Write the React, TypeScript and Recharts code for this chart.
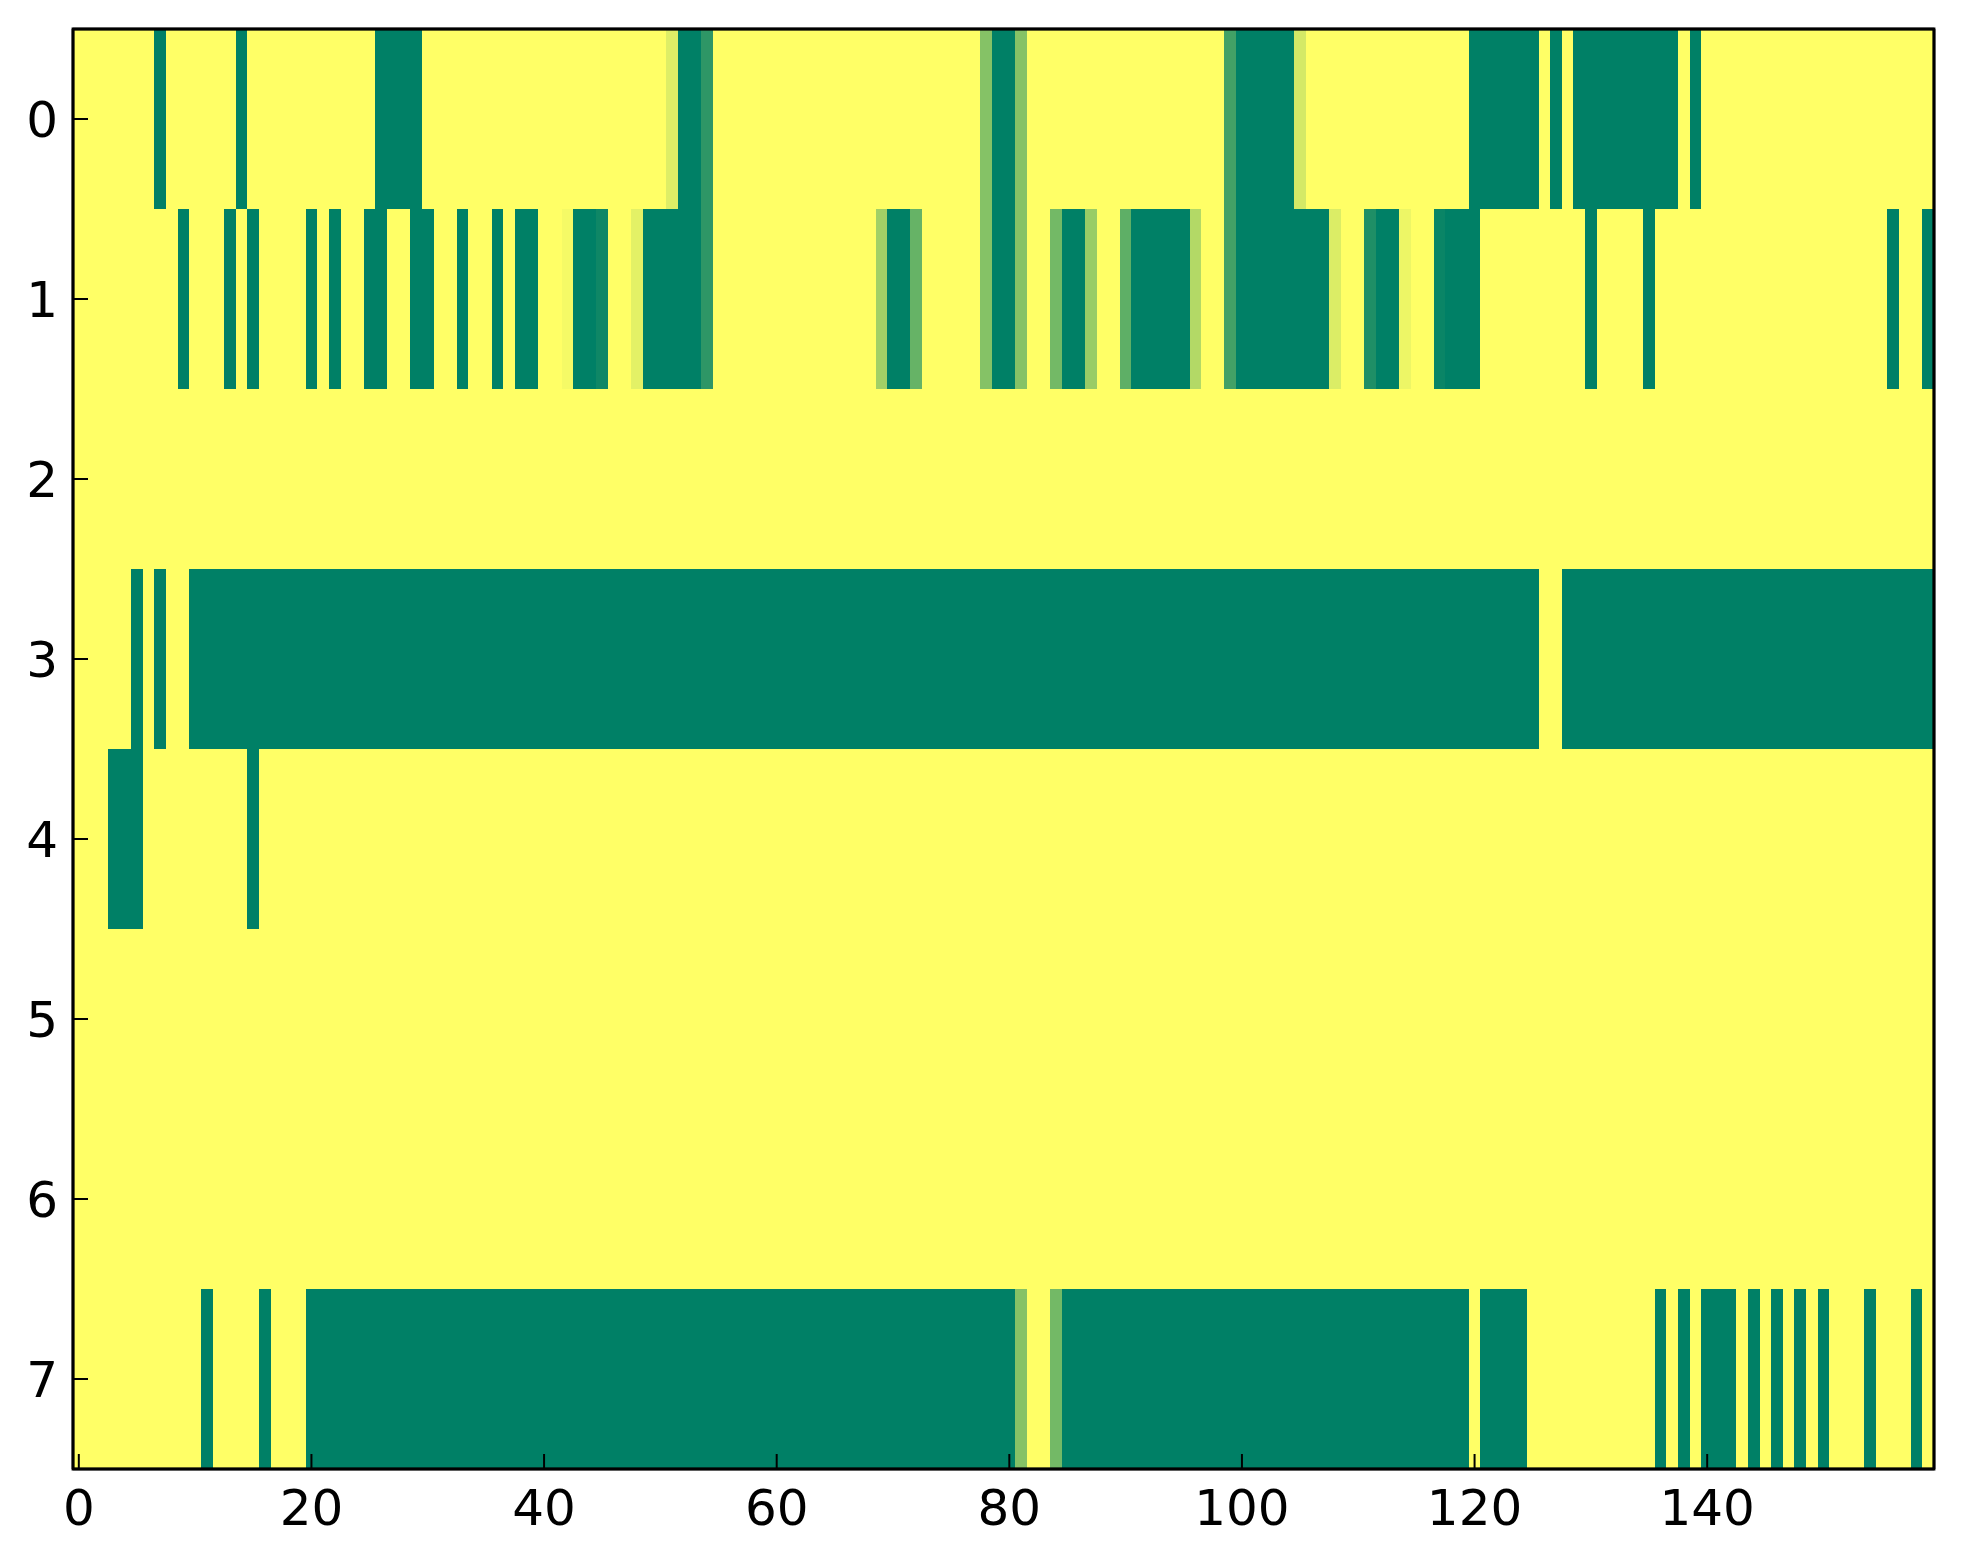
import { ComposedChart, ReferenceArea, Scatter, XAxis, YAxis } from "recharts"

const rowIds = [0, 1, 2, 3, 4, 5, 6, 7]
const xTicks = [0, 20, 40, 60, 80, 100, 120, 140]
const yTicks = [0, 1, 2, 3, 4, 5, 6, 7]

// runs of cells with value 0 (dark green), [fromCol, toCol]
const row0Dark = [[7, 7], [14, 14], [26, 29], [52, 53], [79, 80], [100, 104], [120, 125], [127, 127], [129, 137], [139, 139]]
const row1Dark = [
    [9, 9], [13, 13], [15, 15], [20, 20], [22, 22], [25, 26], [29, 30], [33, 33], [36, 36], [38, 39],
    [43, 44], [49, 53], [70, 71], [79, 80], [85, 86], [91, 95], [100, 107], [112, 113], [118, 120],
    [130, 130], [135, 135], [156, 156], [159, 159],
]
const row3Dark = [[5, 5], [7, 7], [10, 125], [128, 159]]
const row4Dark = [[3, 5], [15, 15]]
const row7Dark = [
    [11, 11], [16, 16], [20, 80], [85, 119], [121, 124], [136, 136], [138, 138], [140, 142],
    [144, 144], [146, 146], [148, 148], [150, 150], [154, 154], [158, 158],
]

// single cells with an in-between value, [col, value]
const row0Mid = [[51, 0.87], [54, 0.18], [78, 0.52], [81, 0.52], [99, 0.26], [105, 0.83]]
const row1Mid = [
    [42, 0.96], [45, 0.06], [48, 0.89], [54, 0.18], [69, 0.63], [72, 0.4], [78, 0.52], [81, 0.52],
    [84, 0.45], [87, 0.6], [90, 0.37], [96, 0.7], [99, 0.26], [108, 0.86], [111, 0.12], [114, 0.93],
    [117, 0.04],
]
const row7Mid = [[81, 0.52], [84, 0.45]]

const darkRuns = [row0Dark, row1Dark, [], row3Dark, row4Dark, [], [], row7Dark]
const midCells = [row0Mid, row1Mid, [], [], [], [], [], row7Mid]

// matplotlib "summer" colormap
const summer = (v: number) =>
    `rgb(${Math.round(255 * v)}, ${Math.round(255 * (0.5 + v / 2))}, 102)`

type Cell = { x1: number; x2: number; y1: number; y2: number; fill: string }

const cells: Cell[] = []
rowIds.forEach((r) => {
    darkRuns[r].forEach(([a, b]) => {
        cells.push({ x1: a - 0.5, x2: b + 0.5, y1: r - 0.5, y2: r + 0.5, fill: summer(0) })
    })
    midCells[r].forEach(([c, v]) => {
        cells.push({ x1: c - 0.5, x2: c + 0.5, y1: r - 0.5, y2: r + 0.5, fill: summer(v) })
    })
})

const centers = cells.map((c) => ({ x: (c.x1 + c.x2) / 2, y: (c.y1 + c.y2) / 2 }))

const tickFont = { fontSize: 50, fontFamily: "DejaVu Sans", fill: "#000" }
const axisLine = { stroke: "#000", strokeWidth: 2.7 }
const tickLine = { stroke: "#000", strokeWidth: 2 }

export default function App() {
    return (
        <div style={{ width: 1955, height: 1556 }}>
            <ComposedChart
                width={1955}
                height={1556}
                margin={{ top: 20, right: 28, bottom: 34, left: 15 }}
            >
                <ReferenceArea
                    xAxisId="b"
                    yAxisId="l"
                    x1={-0.5}
                    x2={159.5}
                    y1={-0.5}
                    y2={7.5}
                    fill={summer(1)}
                    fillOpacity={1}
                    stroke="none"
                    shapeRendering="crispEdges"
                />
                {cells.map((c, i) => (
                    <ReferenceArea
                        key={i}
                        xAxisId="b"
                        yAxisId="l"
                        x1={c.x1}
                        x2={c.x2}
                        y1={c.y1}
                        y2={c.y2}
                        fill={c.fill}
                        fillOpacity={1}
                        stroke="none"
                        shapeRendering="crispEdges"
                    />
                ))}
                {/* frame drawn on top of the cells */}
                <ReferenceArea
                    xAxisId="b"
                    yAxisId="l"
                    x1={-0.5}
                    x2={159.5}
                    y1={-0.5}
                    y2={7.5}
                    fill="none"
                    stroke="#000"
                    strokeWidth={2.8}
                />
                <Scatter
                    xAxisId="b"
                    yAxisId="l"
                    data={centers}
                    dataKey="y"
                    shape={() => <g />}
                    isAnimationActive={false}
                />
                <XAxis
                    xAxisId="b"
                    type="number"
                    dataKey="x"
                    domain={[-0.5, 159.5]}
                    allowDataOverflow
                    ticks={xTicks}
                    interval={0}
                    height={61}
                    tickSize={-15}
                    tickMargin={35}
                    tick={tickFont}
                    axisLine={axisLine}
                    tickLine={tickLine}
                />
                <XAxis
                    xAxisId="t"
                    orientation="top"
                    type="number"
                    domain={[-0.5, 159.5]}
                    allowDataOverflow
                    ticks={xTicks}
                    interval={0}
                    height={1}
                    tickSize={-15}
                    tick={false}
                    axisLine={axisLine}
                    tickLine={tickLine}
                />
                <YAxis
                    yAxisId="l"
                    type="number"
                    dataKey="y"
                    reversed
                    domain={[-0.5, 7.5]}
                    allowDataOverflow
                    ticks={yTicks}
                    interval={0}
                    width={50}
                    tickSize={-15}
                    tickMargin={30}
                    tick={tickFont}
                    axisLine={axisLine}
                    tickLine={tickLine}
                />
                <YAxis
                    yAxisId="r"
                    orientation="right"
                    type="number"
                    reversed
                    domain={[-0.5, 7.5]}
                    allowDataOverflow
                    ticks={yTicks}
                    interval={0}
                    width={1}
                    tickSize={-15}
                    tick={false}
                    axisLine={axisLine}
                    tickLine={tickLine}
                />
            </ComposedChart>
        </div>
    )
}
